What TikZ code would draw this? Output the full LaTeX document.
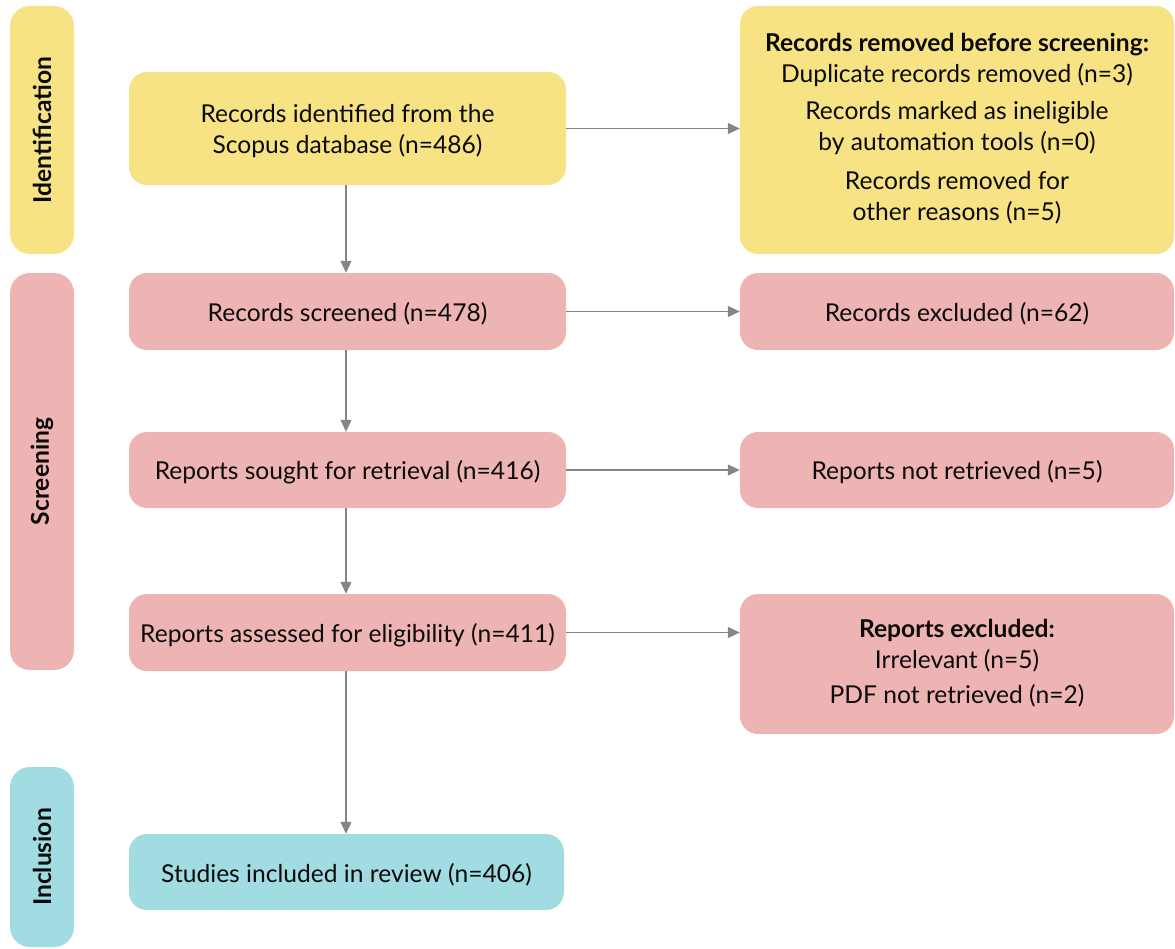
\documentclass[tikz,border=0pt]{standalone}
\usepackage{fontspec}
\setmainfont{Lato}
\usetikzlibrary{arrows.meta}
\definecolor{cyel}{HTML}{F7E384}
\definecolor{cpink}{HTML}{EEB4B3}
\definecolor{ccyan}{HTML}{A0DCE2}
\definecolor{carrow}{HTML}{858585}
\definecolor{ctext}{HTML}{0A0A0A}
\tikzset{
  box/.style={rounded corners=18pt, inner sep=0pt},
  boxtext/.style={align=center, text=ctext, inner sep=0pt, yshift=-2.5pt,
    font=\fontsize{24.6}{31.5}\selectfont},
  side/.style={rounded corners=20pt, inner sep=0pt, minimum width=64pt},
  sidetext/.style={rotate=90, text=ctext, font=\fontsize{24.6}{28}\selectfont\bfseries},
  conn/.style={draw=carrow, line width=1.2pt, -{Triangle[length=12pt,width=11pt]}},
}
\begin{document}
\begin{tikzpicture}[x=1pt,y=-1pt]
\useasboundingbox (0,0) rectangle (1175,948);
% side labels
\node[side, fill=cyel, minimum height=248pt] (sid) at (42,130) {};
\node[sidetext] (tid) at (sid.center) {Identification};
\node[side, fill=cpink, minimum height=397pt] (sscr) at (42,471.5) {};
\node[sidetext] (tscr) at (sscr.center) {Screening};
\node[side, fill=ccyan, minimum height=180pt] (sinc) at (42,857) {};
\node[sidetext] (tinc) at (sinc.center) {Inclusion};
% left column
\node[box, fill=cyel, minimum width=437pt, minimum height=113pt,
  label={[boxtext]center:{Records identified from the\\Scopus database (n=486)}}] (b1) at (347.5,128.5) {};
\node[box, fill=cpink, minimum width=437pt, minimum height=77pt,
  label={[boxtext]center:{Records screened (n=478)}}] (b2) at (347.5,311.5) {};
\node[box, fill=cpink, minimum width=437pt, minimum height=76pt,
  label={[boxtext]center:{Reports sought for retrieval (n=416)}}] (b3) at (347.5,470) {};
\node[box, fill=cpink, minimum width=437pt, minimum height=77pt,
  label={[boxtext]center:{Reports assessed for eligibility (n=411)}}] (b4) at (347.5,632.5) {};
\node[box, fill=ccyan, minimum width=435pt, minimum height=76pt,
  label={[boxtext]center:{Studies included in review (n=406)}}] (b5) at (346.5,872) {};
% right column
\node[box, fill=cyel, minimum width=434pt, minimum height=248pt,
  label={[boxtext, yshift=4pt]center:{\textbf{Records removed before screening:}\\[-0.5pt]
   Duplicate records removed (n=3)\\[5.5pt]
   Records marked as ineligible\\by automation tools (n=0)\\[7pt]
   Records removed for\\other reasons (n=5)}}] (r1) at (957,130) {};
\node[box, fill=cpink, minimum width=434pt, minimum height=77pt,
  label={[boxtext]center:{Records excluded (n=62)}}] (r2) at (957,311.5) {};
\node[box, fill=cpink, minimum width=434pt, minimum height=76pt,
  label={[boxtext]center:{Reports not retrieved (n=5)}}] (r3) at (957,470) {};
\node[box, fill=cpink, minimum width=434pt, minimum height=140pt,
  label={[boxtext, yshift=3.5pt]center:{\textbf{Reports excluded:}\\[-0.5pt]
   Irrelevant (n=5)\\[3.5pt]
   PDF not retrieved (n=2)}}] (r4) at (957,664) {};
% connectors
\draw[conn] (b1.east) -- (b1.east -| r1.west);
\draw[conn] (b2.east) -- (b2.east -| r2.west);
\draw[conn] (b3.east) -- (b3.east -| r3.west);
\draw[conn] (b4.east) -- (b4.east -| r4.west);
\draw[conn] (b1.south -| 346,0) -- (b2.north -| 346,0);
\draw[conn] (b2.south -| 346,0) -- (b3.north -| 346,0);
\draw[conn] (b3.south -| 346,0) -- (b4.north -| 346,0);
\draw[conn] (b4.south -| 346,0) -- (b5.north -| 346,0);
\end{tikzpicture}
\end{document}
